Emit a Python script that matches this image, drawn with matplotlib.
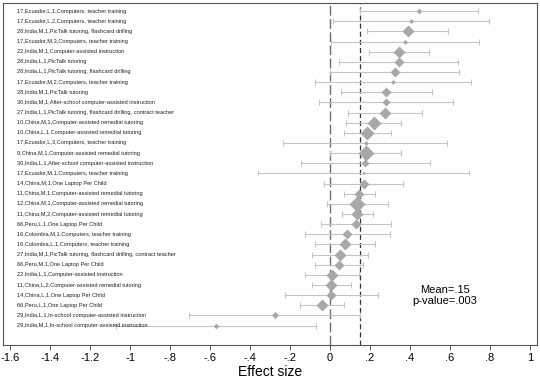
import matplotlib
matplotlib.use("Agg")
import matplotlib.pyplot as plt

plt.rcParams["font.family"] = ["Liberation Sans", "DejaVu Sans"]

# studies, top to bottom
labels = [
    "17,Ecuador,L,1,Computers, teacher training",
    "17,Ecuador,L,2,Computers, teacher training",
    "28,India,M,1,PicTalk tutoring, flashcard drilling",
    "17,Ecuador,M,3,Computers, teacher training",
    "22,India,M,1,Computer-assisted instruction",
    "28,India,L,1,PicTalk tutoring",
    "28,India,L,1,PicTalk tutoring, flashcard drilling",
    "17,Ecuador,M,2,Computers, teacher training",
    "28,India,M,1,PicTalk tutoring",
    "30,India,M,1,After-school computer-assisted instruction",
    "27,India,L,1,PicTalk tutoring, flashcard drilling, contract teacher",
    "10,China,M,1,Computer-assisted remedial tutoring",
    "10,China,L,1,Computer-assisted remedial tutoring",
    "17,Ecuador,L,3,Computers, teacher training",
    "9,China,M,1,Computer-assisted remedial tutoring",
    "30,India,L,1,After-school computer-assisted instruction",
    "17,Ecuador,M,1,Computers, teacher training",
    "14,China,M,1,One Laptop Per Child",
    "11,China,M,1,Computer-assisted remedial tutoring",
    "12,China,M,1,Computer-assisted remedial tutoring",
    "11,China,M,2,Computer-assisted remedial tutoring",
    "66,Peru,L,1,One Laptop Per Child",
    "16,Colombia,M,1,Computers, teacher training",
    "16,Colombia,L,1,Computers, teacher training",
    "27,India,M,1,PicTalk tutoring, flashcard drilling, contract teacher",
    "66,Peru,M,1,One Laptop Per Child",
    "22,India,L,1,Computer-assisted instruction",
    "11,China,L,2,Computer-assisted remedial tutoring",
    "14,China,L,1,One Laptop Per Child",
    "66,Peru,L,1,One Laptop Per Child",
    "29,India,L,1,In-school computer-assisted instruction",
    "29,India,M,1,In-school computer-assisted instruction",
]
effect = [0.447, 0.407, 0.388, 0.377, 0.345, 0.343, 0.325, 0.317, 0.282, 0.278,
          0.275, 0.218, 0.187, 0.178, 0.178, 0.177, 0.168, 0.170, 0.147, 0.137,
          0.137, 0.132, 0.087, 0.077, 0.050, 0.043, 0.010, 0.007, 0.007, -0.042,
          -0.277, -0.568]
ci_low = [0.150, 0.017, 0.185, 0.007, 0.197, 0.047, 0.002, -0.073, 0.053, -0.057,
          0.092, 0.082, 0.072, -0.233, 0.000, -0.147, -0.358, -0.028, 0.070, -0.017,
          0.062, -0.043, -0.127, -0.073, -0.090, -0.077, -0.123, -0.090, -0.227, -0.148,
          -0.705, -1.070]
ci_high = [0.742, 0.797, 0.592, 0.747, 0.493, 0.642, 0.647, 0.707, 0.512, 0.615,
           0.458, 0.353, 0.303, 0.587, 0.353, 0.502, 0.697, 0.367, 0.227, 0.292,
           0.217, 0.307, 0.302, 0.227, 0.190, 0.165, 0.145, 0.107, 0.242, 0.072,
           0.148, -0.071]
# relative weight (marker width)
weight = [4, 3.5, 8, 3.5, 9, 7, 6.5, 3.5, 7, 6, 9, 9.5, 9.5, 3.5, 12, 6, 2.5, 7,
          7.5, 11, 8, 7, 7.5, 8.5, 9, 7.5, 9, 8, 7, 8.5, 5, 4]
mean_effect = 0.15
p_value = ".003"
xticks = [-1.6, -1.4, -1.2, -1, -0.8, -0.6, -0.4, -0.2, 0, 0.2, 0.4, 0.6, 0.8, 1]

n = len(labels)
ypos = [n - i for i in range(n)]

fig = plt.figure(figsize=(5.4, 3.81), dpi=100)
ax = fig.add_axes([0.0056, 0.0945, 0.9888, 0.8975])

ax.axvline(0, color="#6e6e6e", lw=1.0, dashes=(7, 2.5), zorder=1)
ax.axvline(mean_effect, color="#333333", lw=0.9, dashes=(4, 2.5), zorder=1)

ax.errorbar(effect, ypos, xerr=[[e - l for e, l in zip(effect, ci_low)],
                                [h - e for e, h in zip(effect, ci_high)]],
            fmt="none", ecolor="#c4c4c4", elinewidth=0.8, capsize=2.2,
            capthick=0.8, zorder=2)
for e, y, w in zip(effect, ypos, weight):
    ax.plot(e, y, marker="D", ms=w * 0.72, color="#a8a8a8", mec="none", zorder=3)

for lab, y in zip(labels, ypos):
    ax.text(-1.567, y, lab, fontsize=4.1, va="center", ha="left", color="#222222")

ax.text(0.573, 4.0, "Mean=.15\np-value=" + p_value, fontsize=8, ha="center",
        va="center", linespacing=1.1)

ax.set_xlim(-1.635, 1.035)
ax.set_ylim(-0.91, n + 0.79)
ax.set_yticks([])
ax.set_xticks(xticks)
ax.set_xticklabels(["{:g}".format(t).replace("0.", ".") for t in xticks], fontsize=8)
ax.tick_params(axis="x", length=3.5, width=0.7, color="#555555", pad=2)
for s in ax.spines.values():
    s.set_color("#555555")
    s.set_linewidth(0.8)
ax.set_xlabel("Effect size", fontsize=10, labelpad=1.5)

fig.savefig("out.png", dpi=100)
